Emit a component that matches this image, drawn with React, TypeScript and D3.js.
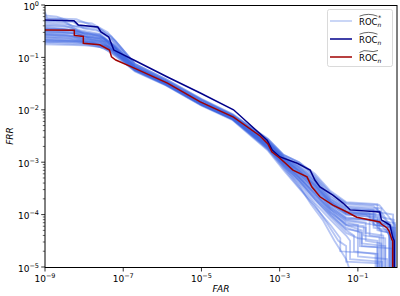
import React from "react";
import * as d3 from "d3";

type P = [number, number];

// all points are [log10(FAR), log10(FRR)]
const rocHat: P[] = [[-9,-0.286],[-8.26,-0.3],[-8.15,-0.38],[-7.65,-0.42],[-7.57,-0.515],[-7.37,-0.61],[-7.32,-0.706],[-7.24,-0.86],[-6.73,-1.05],[-5.87,-1.374],[-5.03,-1.68],[-4.18,-2.0],[-3.32,-2.58],[-3.19,-2.77],[-2.99,-2.9],[-2.55,-3.02],[-2.22,-3.15],[-2.1,-3.34],[-1.97,-3.47],[-1.64,-3.63],[-1.38,-3.78],[-1.2,-3.91],[-0.44,-3.95],[-0.4,-4.1],[-0.18,-4.2],[-0.11,-4.43],[-0.07,-4.5],[-0.07,-5.3]];

const rocTilde: P[] = [[-9,-0.477],[-8.25,-0.48],[-8.25,-0.58],[-8.02,-0.6],[-8.02,-0.73],[-7.6,-0.76],[-7.35,-0.86],[-7.3,-0.99],[-7.19,-1.05],[-6.73,-1.2],[-5.87,-1.49],[-5.03,-1.85],[-4.18,-2.14],[-3.5,-2.5],[-3.3,-2.65],[-3.2,-2.8],[-3.0,-2.92],[-2.66,-3.15],[-2.3,-3.28],[-2.18,-3.47],[-1.97,-3.66],[-1.64,-3.82],[-1.28,-3.95],[-1.03,-4.05],[-0.44,-4.14],[-0.4,-4.18],[-0.26,-4.25],[-0.2,-4.32],[-0.13,-4.48],[-0.11,-4.5],[-0.11,-5.3]];

const boot01: P[] = [[-9,-0.13],[-8.95,-0.25],[-8.2,-0.27],[-7.6,-0.45],[-7.2,-0.68],[-6.7,-1.12],[-5.9,-1.42],[-5.0,-1.79],[-4.2,-2.08],[-3.3,-2.55],[-2.9,-2.86],[-2.5,-3.0],[-2.1,-3.28],[-1.7,-3.6],[-1.3,-3.8],[-0.6,-3.84],[-0.35,-4.0],[-0.15,-4.25],[-0.06,-4.4],[-0.06,-5.3]];
const boot02: P[] = [[-9,-0.3],[-8.3,-0.32],[-8.0,-0.45],[-7.6,-0.5],[-7.3,-0.65],[-6.7,-1.15],[-5.9,-1.45],[-5.0,-1.82],[-4.2,-2.11],[-3.3,-2.6],[-2.9,-2.9],[-2.5,-3.1],[-2.1,-3.35],[-1.7,-3.7],[-1.3,-3.88],[-0.5,-3.92],[-0.3,-4.1],[-0.1,-4.35],[-0.1,-5.3]];
const boot03: P[] = [[-9,-0.55],[-8.5,-0.57],[-8.0,-0.62],[-7.6,-0.66],[-7.2,-0.85],[-6.7,-1.2],[-5.9,-1.48],[-5.0,-1.86],[-4.2,-2.13],[-3.3,-2.62],[-2.9,-2.93],[-2.5,-3.15],[-2.1,-3.42],[-1.7,-3.75],[-1.3,-3.95],[-0.8,-4.0],[-0.4,-4.2],[-0.18,-4.4],[-0.18,-5.3]];
const boot04: P[] = [[-9,-0.65],[-8.2,-0.68],[-7.8,-0.72],[-7.4,-0.8],[-7.1,-0.95],[-6.7,-1.24],[-5.9,-1.5],[-5.0,-1.89],[-4.2,-2.16],[-3.3,-2.66],[-2.9,-2.97],[-2.5,-3.22],[-2.1,-3.5],[-1.7,-3.82],[-1.3,-4.05],[-0.7,-4.1],[-0.4,-4.3],[-0.4,-5.3]];
const boot05: P[] = [[-9,-0.72],[-8.4,-0.74],[-7.9,-0.76],[-7.5,-0.82],[-7.2,-0.98],[-6.7,-1.26],[-5.9,-1.53],[-5.0,-1.91],[-4.2,-2.18],[-3.3,-2.7],[-2.9,-3.02],[-2.5,-3.3],[-2.1,-3.6],[-1.7,-3.95],[-1.3,-4.2],[-0.9,-4.3],[-0.9,-4.55],[-0.3,-4.6],[-0.3,-5.3]];
const boot06: P[] = [[-9,-0.42],[-8.6,-0.45],[-8.1,-0.5],[-7.6,-0.6],[-7.25,-0.75],[-6.7,-1.18],[-5.9,-1.47],[-5.0,-1.84],[-4.2,-2.11],[-3.3,-2.6],[-2.9,-2.9],[-2.5,-3.08],[-2.1,-3.32],[-1.7,-3.66],[-1.3,-3.86],[-0.6,-3.9],[-0.6,-4.1],[-0.25,-4.2],[-0.12,-4.45],[-0.12,-5.3]];
const boot07: P[] = [[-9,-0.6],[-8.3,-0.62],[-7.9,-0.7],[-7.5,-0.72],[-7.2,-0.9],[-6.7,-1.22],[-5.9,-1.5],[-5.0,-1.88],[-4.2,-2.15],[-3.3,-2.68],[-2.9,-3.0],[-2.5,-3.28],[-2.1,-3.62],[-1.7,-3.9],[-1.3,-4.15],[-1.0,-4.2],[-1.0,-4.45],[-0.5,-4.5],[-0.5,-5.3]];
const boot08: P[] = [[-9,-0.25],[-8.6,-0.27],[-8.3,-0.4],[-7.7,-0.42],[-7.3,-0.6],[-6.7,-1.13],[-5.9,-1.44],[-5.0,-1.81],[-4.2,-2.1],[-3.3,-2.57],[-2.9,-2.87],[-2.5,-3.02],[-2.1,-3.25],[-1.7,-3.58],[-1.3,-3.78],[-0.45,-3.82],[-0.2,-4.05],[-0.05,-4.2],[-0.05,-5.3]];
const boot09: P[] = [[-9,-0.5],[-8.2,-0.53],[-7.8,-0.66],[-7.4,-0.7],[-7.15,-0.92],[-6.7,-1.22],[-5.9,-1.5],[-5.0,-1.9],[-4.2,-2.17],[-3.3,-2.72],[-2.9,-3.05],[-2.5,-3.35],[-2.1,-3.7],[-1.7,-4.0],[-1.3,-4.3],[-1.1,-4.4],[-1.1,-4.7],[-0.55,-4.75],[-0.55,-5.3]];
const boot10: P[] = [[-9,-0.35],[-8.4,-0.38],[-8.0,-0.55],[-7.6,-0.58],[-7.25,-0.78],[-6.7,-1.19],[-5.9,-1.47],[-5.0,-1.86],[-4.2,-2.14],[-3.3,-2.64],[-2.9,-2.95],[-2.5,-3.18],[-2.1,-3.45],[-1.7,-3.8],[-1.3,-4.0],[-0.6,-4.05],[-0.6,-4.25],[-0.2,-4.3],[-0.2,-5.3]];
const boot11: P[] = [[-9,-0.68],[-8.1,-0.7],[-7.7,-0.75],[-7.3,-0.85],[-7.0,-1.05],[-6.7,-1.24],[-5.9,-1.52],[-5.0,-1.9],[-4.2,-2.19],[-3.3,-2.75],[-2.9,-3.1],[-2.5,-3.42],[-2.1,-3.78],[-1.7,-4.1],[-1.3,-4.4],[-1.2,-4.5],[-1.2,-4.85],[-0.38,-4.9],[-0.38,-5.3]];
const boot12: P[] = [[-9,-0.45],[-8.3,-0.47],[-7.9,-0.58],[-7.5,-0.62],[-7.2,-0.82],[-6.7,-1.19],[-5.9,-1.49],[-5.0,-1.87],[-4.2,-2.15],[-3.3,-2.66],[-2.9,-2.98],[-2.5,-3.25],[-2.1,-3.55],[-1.7,-3.88],[-1.3,-4.1],[-0.8,-4.15],[-0.8,-4.35],[-0.35,-4.4],[-0.35,-5.3]];
const boot13: P[] = [[-9,-0.58],[-8.5,-0.6],[-8.0,-0.64],[-7.6,-0.68],[-7.2,-0.88],[-6.7,-1.21],[-5.9,-1.5],[-5.0,-1.89],[-4.2,-2.17],[-3.3,-2.7],[-2.9,-3.03],[-2.5,-3.32],[-2.1,-3.65],[-1.7,-3.98],[-1.3,-4.25],[-0.9,-4.35],[-0.9,-4.6],[-0.12,-4.65],[-0.12,-5.3]];
const boot14: P[] = [[-9,-0.38],[-8.5,-0.4],[-8.1,-0.48],[-7.6,-0.55],[-7.3,-0.72],[-6.7,-1.16],[-5.9,-1.46],[-5.0,-1.83],[-4.2,-2.12],[-3.3,-2.62],[-2.9,-2.92],[-2.5,-3.12],[-2.1,-3.38],[-1.7,-3.72],[-1.3,-3.92],[-0.7,-3.97],[-0.7,-4.18],[-0.3,-4.22],[-0.15,-4.5],[-0.15,-5.3]];
const boot15: P[] = [[-9,-0.75],[-8.0,-0.77],[-7.6,-0.8],[-7.3,-0.9],[-7.0,-1.08],[-6.7,-1.27],[-5.9,-1.54],[-5.0,-1.92],[-4.2,-2.2],[-3.3,-2.78],[-2.9,-3.15],[-2.5,-3.5],[-2.1,-3.85],[-1.7,-4.2],[-1.45,-4.45],[-1.45,-4.7],[-0.5,-4.75],[-0.5,-5.3]];
const boot16: P[] = [[-9,-0.2],[-8.7,-0.22],[-8.4,-0.3],[-7.8,-0.35],[-7.4,-0.52],[-6.7,-1.12],[-5.9,-1.42],[-5.0,-1.8],[-4.2,-2.09],[-3.3,-2.56],[-2.9,-2.86],[-2.5,-3.0],[-2.1,-3.22],[-1.7,-3.55],[-1.3,-3.76],[-0.5,-3.8],[-0.5,-3.95],[-0.1,-4.0],[-0.1,-5.3]];
const boot17: P[] = [[-9,-0.62],[-8.4,-0.64],[-7.9,-0.68],[-7.5,-0.75],[-7.2,-0.92],[-6.7,-1.23],[-5.9,-1.51],[-5.0,-1.9],[-4.2,-2.17],[-3.3,-2.73],[-2.9,-3.07],[-2.5,-3.38],[-2.1,-3.72],[-1.7,-4.05],[-1.3,-4.35],[-1.0,-4.45],[-1.0,-4.8],[-0.25,-4.85],[-0.25,-5.3]];
const boot18: P[] = [[-9,-0.48],[-8.3,-0.5],[-8.0,-0.6],[-7.6,-0.64],[-7.25,-0.8],[-6.7,-1.18],[-5.9,-1.48],[-5.0,-1.86],[-4.2,-2.13],[-3.3,-2.63],[-2.9,-2.94],[-2.5,-3.16],[-2.1,-3.44],[-1.7,-3.76],[-1.3,-3.97],[-0.6,-4.0],[-0.6,-4.2],[-0.05,-4.25],[-0.05,-5.3]];
const boot19: P[] = [[-9,-0.7],[-8.2,-0.72],[-7.8,-0.76],[-7.4,-0.84],[-7.1,-1.0],[-6.7,-1.25],[-5.9,-1.53],[-5.0,-1.91],[-4.2,-2.18],[-3.3,-2.74],[-2.9,-3.08],[-2.5,-3.45],[-2.2,-3.8],[-1.9,-4.1],[-1.6,-4.5],[-1.3,-4.85],[-1.1,-5.3]];
const boot20: P[] = [[-9,-0.32],[-8.5,-0.34],[-8.2,-0.42],[-7.7,-0.46],[-7.3,-0.66],[-6.7,-1.15],[-5.9,-1.44],[-5.0,-1.81],[-4.2,-2.11],[-3.3,-2.59],[-2.9,-2.89],[-2.5,-3.06],[-2.1,-3.3],[-1.7,-3.64],[-1.3,-3.84],[-0.4,-3.88],[-0.4,-4.05],[-0.08,-4.1],[-0.08,-5.3]];
const boot21: P[] = [[-9,-0.56],[-8.4,-0.58],[-8.0,-0.65],[-7.6,-0.7],[-7.2,-0.87],[-6.7,-1.22],[-5.9,-1.5],[-5.0,-1.9],[-4.2,-2.17],[-3.3,-2.69],[-2.9,-3.01],[-2.5,-3.3],[-2.1,-3.6],[-1.7,-3.92],[-1.3,-4.2],[-0.8,-4.25],[-0.8,-4.5],[-0.4,-4.55],[-0.4,-5.3]];
const boot22: P[] = [[-9,-0.66],[-8.3,-0.68],[-7.8,-0.72],[-7.5,-0.78],[-7.2,-0.95],[-6.7,-1.24],[-5.9,-1.52],[-5.0,-1.9],[-4.2,-2.18],[-3.3,-2.76],[-2.9,-3.12],[-2.5,-3.48],[-2.1,-3.82],[-1.8,-4.15],[-1.5,-4.5],[-1.3,-4.6],[-1.3,-4.9],[-0.45,-4.93],[-0.45,-5.3]];
const boot23: P[] = [[-9,-0.52],[-8.2,-0.54],[-7.9,-0.62],[-7.5,-0.66],[-7.2,-0.84],[-6.7,-1.2],[-5.9,-1.49],[-5.0,-1.88],[-4.2,-2.16],[-3.3,-2.67],[-2.9,-2.99],[-2.5,-3.24],[-2.1,-3.52],[-1.7,-3.85],[-1.3,-4.07],[-0.5,-4.1],[-0.5,-4.3],[-0.15,-4.35],[-0.15,-5.3]];
const boot24: P[] = [[-9,-0.4],[-8.4,-0.42],[-8.1,-0.52],[-7.6,-0.56],[-7.3,-0.74],[-6.7,-1.17],[-5.9,-1.47],[-5.0,-1.85],[-4.2,-2.13],[-3.3,-2.61],[-2.9,-2.91],[-2.5,-3.1],[-2.1,-3.36],[-1.7,-3.7],[-1.3,-3.9],[-0.45,-3.93],[-0.45,-4.12],[-0.2,-4.15],[-0.06,-4.35],[-0.06,-5.3]];
const boot25: P[] = [[-9,-0.46],[-8.3,-0.48],[-8.0,-0.56],[-7.6,-0.6],[-7.2,-0.78],[-6.7,-1.2],[-5.9,-1.5],[-5.0,-1.87],[-4.2,-2.15],[-3.3,-2.64],[-2.9,-2.95],[-2.5,-3.18],[-2.1,-3.48],[-1.7,-3.8],[-1.3,-4.0],[-0.5,-4.05],[-0.5,-4.2],[-0.1,-4.25],[-0.1,-5.3]];
const boot26: P[] = [[-9,-0.62],[-8.4,-0.64],[-8.0,-0.68],[-7.6,-0.72],[-7.2,-0.9],[-6.7,-1.23],[-5.9,-1.5],[-5.0,-1.89],[-4.2,-2.16],[-3.3,-2.67],[-2.9,-2.98],[-2.5,-3.22],[-2.1,-3.52],[-1.7,-3.86],[-1.3,-4.08],[-0.45,-4.12],[-0.45,-4.3],[-0.2,-4.35],[-0.2,-5.3]];
const boot27: P[] = [[-9,-0.53],[-8.3,-0.55],[-7.9,-0.6],[-7.5,-0.64],[-7.2,-0.82],[-6.7,-1.21],[-5.9,-1.49],[-5.0,-1.88],[-4.2,-2.15],[-3.3,-2.65],[-2.9,-2.96],[-2.5,-3.2],[-2.1,-3.46],[-1.7,-3.78],[-1.3,-3.98],[-0.5,-4.02],[-0.5,-4.16],[-0.15,-4.2],[-0.08,-4.45],[-0.08,-5.3]];
const boot28: P[] = [[-9,-0.67],[-8.2,-0.69],[-7.8,-0.73],[-7.4,-0.78],[-7.15,-0.95],[-6.7,-1.22],[-5.9,-1.5],[-5.0,-1.9],[-4.2,-2.17],[-3.3,-2.69],[-2.9,-3.01],[-2.5,-3.28],[-2.1,-3.58],[-1.7,-3.9],[-1.3,-4.12],[-0.7,-4.18],[-0.7,-4.4],[-0.45,-4.42],[-0.45,-5.3]];
const boot29: P[] = [[-9,-0.44],[-8.5,-0.46],[-8.1,-0.52],[-7.6,-0.58],[-7.3,-0.76],[-6.7,-1.19],[-5.9,-1.48],[-5.0,-1.86],[-4.2,-2.14],[-3.3,-2.63],[-2.9,-2.93],[-2.5,-3.14],[-2.1,-3.4],[-1.7,-3.74],[-1.3,-3.94],[-0.55,-3.98],[-0.55,-4.15],[-0.25,-4.18],[-0.1,-4.4],[-0.1,-5.3]];
const boot30: P[] = [[-9,-0.57],[-8.3,-0.59],[-7.9,-0.66],[-7.5,-0.7],[-7.2,-0.86],[-6.7,-1.22],[-5.9,-1.5],[-5.0,-1.89],[-4.2,-2.17],[-3.3,-2.71],[-2.9,-3.04],[-2.5,-3.34],[-2.1,-3.66],[-1.7,-3.96],[-1.3,-4.18],[-0.85,-4.22],[-0.85,-4.4],[-0.3,-4.45],[-0.3,-5.3]];
const boot31: P[] = [[-9,-0.5],[-8.4,-0.52],[-8.0,-0.6],[-7.6,-0.63],[-7.25,-0.8],[-6.7,-1.2],[-5.9,-1.49],[-5.0,-1.87],[-4.2,-2.15],[-3.3,-2.64],[-2.9,-2.94],[-2.5,-3.17],[-2.1,-3.43],[-1.7,-3.76],[-1.3,-3.96],[-0.45,-4.0],[-0.45,-4.12],[-0.05,-4.16],[-0.05,-5.3]];
const boot32: P[] = [[-9,-0.7],[-8.3,-0.71],[-7.8,-0.74],[-7.4,-0.8],[-7.1,-0.98],[-6.7,-1.24],[-5.9,-1.52],[-5.0,-1.9],[-4.2,-2.17],[-3.3,-2.72],[-2.9,-3.06],[-2.5,-3.36],[-2.1,-3.7],[-1.7,-4.02],[-1.3,-4.28],[-0.95,-4.32],[-0.95,-4.6],[-0.5,-4.62],[-0.5,-5.3]];

const bootstrap: P[][] = [boot01, boot02, boot03, boot04, boot05, boot06, boot07, boot08, boot09, boot10, boot11, boot12, boot13, boot14, boot15, boot16, boot17, boot18, boot19, boot20, boot21, boot22, boot23, boot24, boot25, boot26, boot27, boot28, boot29, boot30, boot31, boot32];

const xTickExps = [-9, -7, -5, -3, -1];
const yTickExps = [0, -1, -2, -3, -4, -5];
const minorSubs = [2, 3, 4, 5, 6, 7, 8, 9];

const W = 400, H = 296;
const L = 45, R = 397, T = 5, B = 267;
const FONT = "DejaVu Sans, sans-serif";
const LIGHT = "#4169e1";
const NAVY = "#00008b";
const RED = "#a00000";

export default function App() {
  const x = d3.scaleLog().domain([1e-9, 1]).range([L, R]);
  const y = d3.scaleLog().domain([1e-5, 1]).range([B, T]);
  const line = d3
    .line<P>()
    .x((d) => x(Math.pow(10, d[0])))
    .y((d) => y(Math.pow(10, d[1])));

  const minorY: number[] = [];
  for (let k = -5; k < 0; k++) for (const s of minorSubs) minorY.push(s * Math.pow(10, k));

  const legendRows = [
    { color: "#b9c8f3", star: true, tilde: false },
    { color: NAVY, star: false, tilde: false },
    { color: RED, star: false, tilde: true },
  ];

  return (
    <svg width={W} height={H} style={{ position: "absolute", left: 0, top: 0 }} fontFamily={FONT}>
      <defs>
        <clipPath id="plot">
          <rect x={L} y={T} width={R - L} height={B - T} />
        </clipPath>
      </defs>
      <rect x={0} y={0} width={W} height={H} fill="white" />
      <g clipPath="url(#plot)" fill="none" strokeLinejoin="miter">
        {bootstrap.map((c, i) => (
          <path key={i} d={line(c) || ""} stroke={LIGHT} strokeOpacity={0.38} strokeWidth={1.8} />
        ))}
        <path d={line(rocHat) || ""} stroke={NAVY} strokeWidth={1.5} />
        <path d={line(rocTilde) || ""} stroke={RED} strokeWidth={1.5} />
      </g>
      {/* spines */}
      <line x1={L} x2={R} y1={T + 0.5} y2={T + 0.5} stroke="black" strokeWidth={1} />
      <line x1={L} x2={R} y1={B + 0.5} y2={B + 0.5} stroke="black" strokeWidth={1} />
      <line x1={L} x2={L} y1={T} y2={B + 1} stroke="black" strokeWidth={1} />
      <line x1={R} x2={R} y1={T} y2={B + 1} stroke="black" strokeWidth={1} />
      {/* x ticks */}
      {xTickExps.map((e) => {
        const px = x(Math.pow(10, e));
        return (
          <g key={e}>
            <line x1={px} x2={px} y1={B + 1} y2={B + 4.5} stroke="black" strokeWidth={0.8} />
            <text x={px} y={282} fontSize={9} textAnchor="middle">
              10<tspan dy={-4} fontSize={6.5}>{"\u2212" + Math.abs(e)}</tspan>
            </text>
          </g>
        );
      })}
      {/* y ticks */}
      {minorY.map((v, i) => {
        const py = y(v);
        return <line key={i} x1={L - 2.2} x2={L} y1={py} y2={py} stroke="black" strokeWidth={0.6} />;
      })}
      {yTickExps.map((e) => {
        const py = y(Math.pow(10, e));
        return (
          <g key={e}>
            <line x1={L - 3.8} x2={L} y1={py} y2={py} stroke="black" strokeWidth={0.8} />
            <text x={39} y={py + 4.5} fontSize={9} textAnchor="end">
              10<tspan dy={-4} fontSize={6.5}>{e === 0 ? "0" : "\u2212" + Math.abs(e)}</tspan>
            </text>
          </g>
        );
      })}
      {/* axis labels */}
      <text x={221} y={292} fontSize={9} fontStyle="italic" textAnchor="middle">FAR</text>
      <text transform="translate(13,136) rotate(-90)" fontSize={9} fontStyle="italic" textAnchor="middle">FRR</text>
      {/* legend */}
      <rect x={327.5} y={9.5} width={65} height={57} rx={2} fill="white" fillOpacity={0.8} stroke="#d0d0d0" strokeWidth={0.8} />
      {legendRows.map((r, i) => {
        const cy = 21 + i * 18;
        const tx = 359;
        return (
          <g key={i}>
            <line x1={330} x2={352} y1={cy} y2={cy} stroke={r.color} strokeWidth={1.5} />
            <text x={tx} y={cy + 3.5} fontSize={8.5}>
              ROC
              <tspan dy={2} fontSize={6} fontStyle="italic">n</tspan>
            </text>
            {r.star && (
              <text x={tx + 19} y={cy - 1} fontSize={6.5}>*</text>
            )}
            {r.tilde ? (
              <path d={`M${tx + 0.5},${cy - 4.5} Q${tx + 5},${cy - 7.5} ${tx + 9.5},${cy - 6} T${tx + 19},${cy - 6.5}`} fill="none" stroke="black" strokeWidth={0.6} />
            ) : (
              <path d={`M${tx + 0.5},${cy - 4.8} Q${tx + 9.5},${cy - 8.5} ${tx + 18.5},${cy - 4.8}`} fill="none" stroke="black" strokeWidth={0.6} />
            )}
          </g>
        );
      })}
    </svg>
  );
}
